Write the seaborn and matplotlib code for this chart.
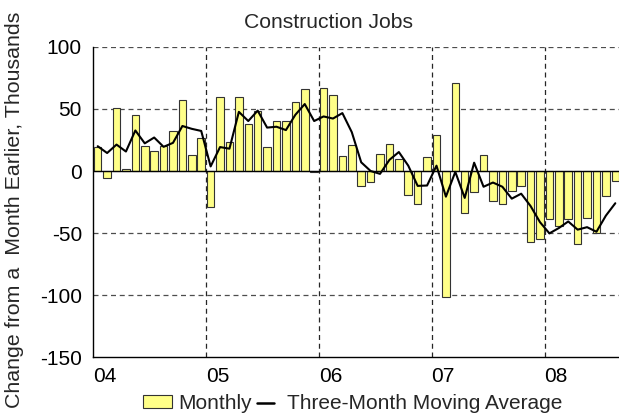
import numpy as np
import pandas as pd
import matplotlib
matplotlib.use("Agg")
import matplotlib.pyplot as plt
import seaborn as sns
from matplotlib.patches import Patch
from matplotlib.lines import Line2D
from matplotlib.transforms import ScaledTranslation

# ---- data (Jan 2004 .. Aug 2008, monthly change, thousands) ----
monthly = [19, -6, 51, 2, 45, 20, 16, 20, 32, 57, 13, 27,
           -29, 60, 23, 60, 38, 48, 19, 40, 40, 56, 66, -1,
           67, 61, 12, 21, -12, -9, 14, 22, 10, -19, -27, 11,
           29, -102, 71, -34, -17, 13, -24, -27, -16, -12, -57, -55,
           -39, -44, -39, -59, -38, -50, -20, -8]
moving_avg = [20, 14.5, 21.3, 15.7, 32.7, 22.3, 27, 19.5, 22.7, 36.3, 34, 32.3,
              3.7, 19.3, 18, 47.7, 40.3, 48.7, 35, 35.7, 33, 45.3, 54, 40.3,
              44, 42.3, 46.7, 31.3, 7, 0, -2.3, 9, 15.3, 4.3, -12, -11.7,
              4.3, -20.7, -0.7, -21.7, 6.7, -12.7, -9.3, -12.7, -22.3, -18.3, -28.3, -41.3,
              -50.3, -46, -40.7, -47.3, -45.3, -49, -36, -26]
year_labels = ["04", "05", "06", "07", "08"]
y_ticks = [-150, -100, -50, 0, 50, 100]

month_pos = np.arange(len(monthly))
df = pd.DataFrame({"month": month_pos, "monthly": monthly, "ma": moving_avg})

sns.set_style("white")
plt.rcParams["font.family"] = ["Liberation Sans", "DejaVu Sans"]
plt.rcParams["axes.unicode_minus"] = False

fig = plt.figure(figsize=(6.19, 4.19), dpi=100)
ax = fig.add_axes([93 / 619, 1 - 357 / 419, (620 - 93) / 619, 310 / 419])

bar_color = "#FFFF88"
sns.barplot(data=df, x="month", y="monthly", native_scale=True, color=bar_color,
            edgecolor="#333333", linewidth=0.8, width=0.8, saturation=1, ax=ax, zorder=3)
sns.lineplot(data=df, x="month", y="ma", color="black", linewidth=1.5, ax=ax, zorder=4)

ax.set_xlim(-0.5, len(monthly) - 0.5)
ax.set_ylim(-150, 100)

# x ticks: years (major) and months (minor)
year_starts = [-0.5 + 12 * k for k in range(len(year_labels))]
ax.set_xticks(year_starts)
ax.set_xticklabels(year_labels, fontsize=15)
ax.set_xticks(np.arange(-0.5, len(monthly) - 0.5, 1), minor=True)
ax.tick_params(axis="x", which="major", direction="out", length=6, width=0.8, pad=1, colors="black")
ax.tick_params(axis="x", which="minor", direction="out", length=2, width=0.7, colors="black")
offset = ScaledTranslation(11.5 / 100, 0, fig.dpi_scale_trans)
for lab in ax.get_xticklabels():
    lab.set_transform(lab.get_transform() + offset)

ax.set_yticks(y_ticks)
ax.set_yticklabels([str(v) for v in y_ticks], fontsize=15)
ax.tick_params(axis="y", direction="out", length=4, width=0.8, pad=4, colors="black")

# grid
for yv in [-100, -50, 50, 100]:
    ax.axhline(yv, color="0.3", linestyle=(0, (4, 3)), linewidth=0.9, zorder=1)
for xv in year_starts[1:]:
    ax.axvline(xv, color="0.15", linestyle=(0, (4, 3)), linewidth=0.9, zorder=1)
ax.axhline(0, color="black", linewidth=1.0, zorder=3.5)

for s in ["top", "right"]:
    ax.spines[s].set_visible(False)
for s in ["left", "bottom"]:
    ax.spines[s].set_color("black")
    ax.spines[s].set_linewidth(1.0)

ax.set_xlabel("")
ax.set_ylabel("Change from a  Month Earlier, Thousands", fontsize=15.4)
ax.yaxis.set_label_coords(-0.131, 0.475)

fig.text(329 / 619, 1 - 22 / 419, "Construction Jobs", fontsize=15.2, ha="center", va="center")


class ShortLine:
    def legend_artist(self, legend, orig_handle, fontsize, handlebox):
        x0, y0 = handlebox.xdescent, handlebox.ydescent
        w, h = handlebox.width, handlebox.height
        line = Line2D([x0 + 0.2 * w, x0 + 0.75 * w], [y0 + h / 2, y0 + h / 2],
                      color="black", linewidth=1.8, transform=handlebox.get_transform())
        handlebox.add_artist(line)
        return line


h_bar = Patch(facecolor=bar_color, edgecolor="#333333", linewidth=0.8)
h_line = Line2D([], [], color="black", linewidth=1.8)
fig.legend([h_bar, h_line], ["Monthly", "Three-Month Moving Average"],
           handler_map={Line2D: ShortLine()},
           loc="center", bbox_to_anchor=(352.5 / 619, 1 - 403 / 419), ncol=2,
           frameon=False, fontsize=15, handlelength=1.4, handleheight=0.6,
           handletextpad=0.3, columnspacing=0.0, borderpad=0, borderaxespad=0)

fig.savefig("out.png", dpi=100)
